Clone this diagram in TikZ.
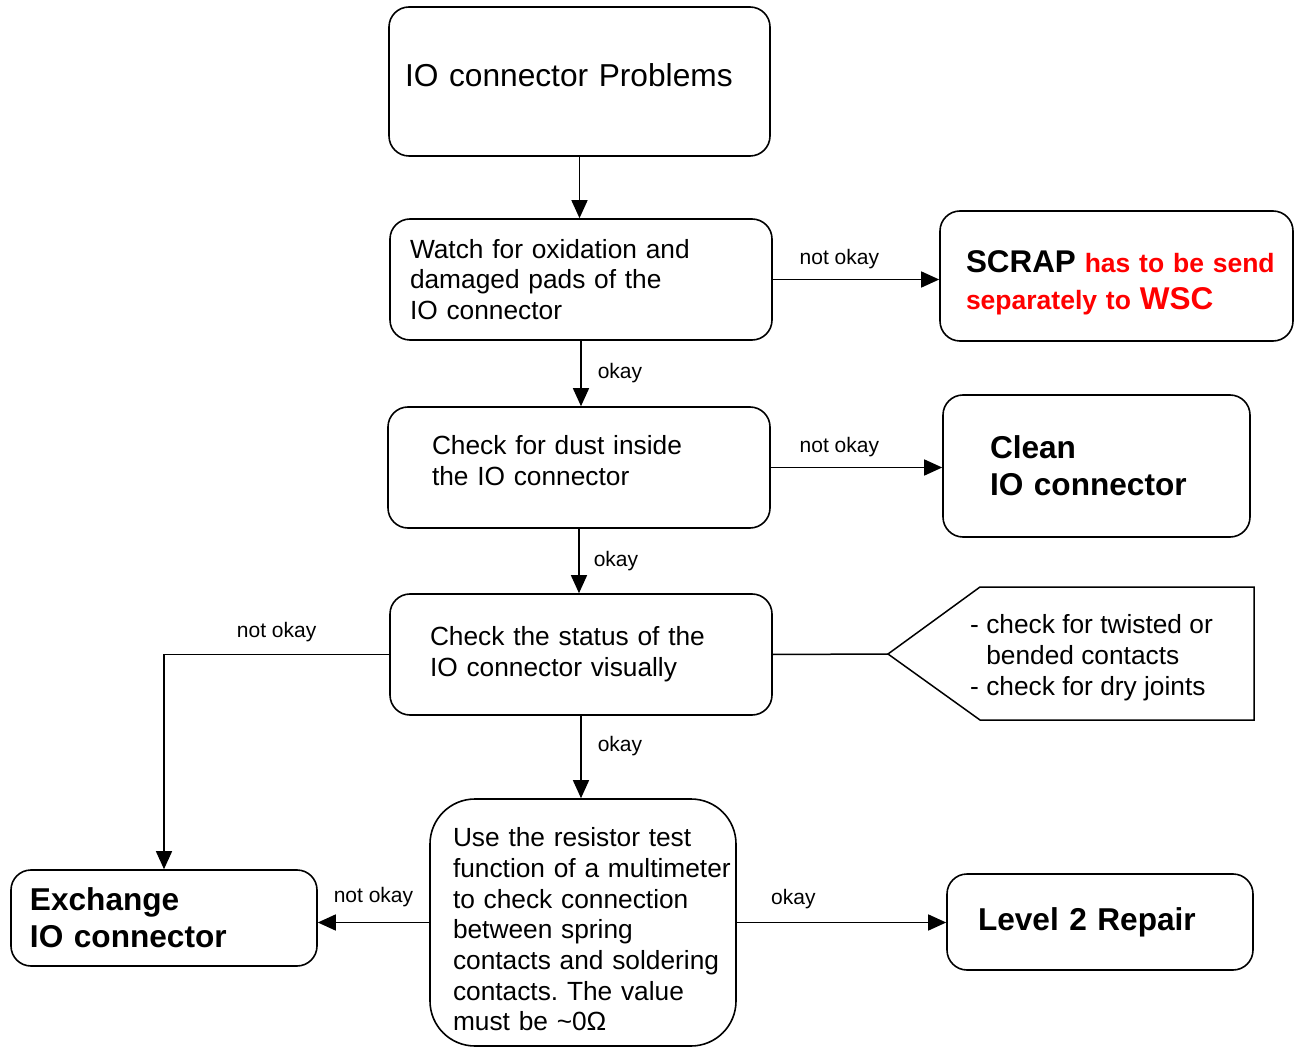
\documentclass[tikz,border=0pt]{standalone}
\usepackage{fontspec}
\setmainfont{Liberation Sans}
\usepackage{xcolor}
\usepackage{tikz}
\usetikzlibrary{arrows.meta, calc}
\hyphenpenalty=10000
\exhyphenpenalty=10000
\frenchspacing
\newcommand{\bodyfont}{\fontsize{26.3}{30.7}\selectfont}
\newcommand{\headfont}{\fontsize{31.6}{37}\selectfont\bfseries}
\newcommand{\lblfont}{\fontsize{21}{25}\selectfont}
\tikzstyle{box} = [rectangle, rounded corners=20pt, draw=black, line width=1.6pt, align=left, font=\bodyfont]
\tikzstyle{arrow} = [line width=1.5pt, -{Triangle[length=18pt, width=16pt]}]
\tikzstyle{line} = [line width=1.5pt]
\tikzstyle{lbl} = [font=\lblfont, inner sep=2pt]

\begin{document}
\begin{tikzpicture}[x=1pt, y=-1pt]
    \useasboundingbox (0,0) rectangle (1294,1048);
    \node (problem) [box, text width=349pt, inner xsep=16pt, minimum height=149pt, text depth=13pt, font=\fontsize{31.7}{38}\selectfont] at (579.5,81.5) {IO connector Problems};
    \node (watch) [box, text width=342pt, inner xsep=20pt, minimum height=121pt] at (581,279.5) {Watch for oxidation and\\damaged pads of the\\IO connector};
    \node (scrap) [box, text width=301pt, inner xsep=26pt, minimum height=130pt, text height=35pt, font=\fontsize{26.5}{37}\selectfont\bfseries] at (1116.5,276) {\mbox{{\fontsize{31.4}{37}\selectfont SCRAP} \color{red}has to be send}\\{\color{red}separately to {\fontsize{31.5}{37}\selectfont WSC}}};
    \node (dust) [box, text width=294pt, inner xsep=44pt, minimum height=121pt, text depth=45pt] at (579,467.5) {Check for dust inside\\the IO connector};
    \node (clean) [box, text width=213pt, inner xsep=47pt, minimum height=142pt, font=\headfont] at (1096.5,466) {Clean\\IO connector};
    \node (status) [box, text width=302pt, inner xsep=40pt, minimum height=121pt] at (581,654.5) {Check the status of the\\IO connector visually};
    \node (test) [box, rounded corners=45pt, text width=260pt, inner xsep=23pt, minimum height=247pt, text height=33pt] at (583,922.5) {Use the resistor test\\\mbox{function of a multimeter}\\to check connection\\between spring\\\mbox{contacts and soldering}\\contacts. The value\\must be \textasciitilde 0Ω};
    \node (exchange) [box, text width=268pt, inner xsep=19pt, minimum height=96pt, font=\headfont] at (164,918) {Exchange\\IO connector};
    \node (level) [box, text width=244pt, inner xsep=31pt, minimum height=96pt, font=\headfont] at (1100,922) {Level 2 Repair};

    % hint flag
    \coordinate (hinttip) at (888,654);
    \draw [line] (hinttip) -- (980,587) -- (1254,587) -- (1254,720) -- (980,720) -- cycle;
    \node (hint) [anchor=west, align=left, inner sep=0pt, font=\bodyfont] at (970,657.5) {- check for twisted or\\\hphantom{-}~bended contacts\\- check for dry joints};

    \draw [arrow] (problem.south) -- (problem.south |- watch.north);
    \draw [arrow] (watch.east) -- node[lbl, above=8pt, pos=0.4] {not okay} (watch.east -| scrap.west);
    \draw [arrow] (watch.south) -- node[lbl, right=14pt] {okay} (watch.south |- dust.north);
    \draw [arrow] (dust.east) -- node[lbl, above=8pt, pos=0.4] {not okay} (dust.east -| clean.west);
    \draw [arrow] (dust.south) -- node[lbl, right=12pt] {okay} (dust.south |- status.north);
    \draw [line] (status.east) -- (hinttip);
    \draw [arrow] (status.west) -- node[lbl, above=10pt] {not okay} (exchange.north |- status.west) -- (exchange.north);
    \draw [arrow] (status.south) -- node[lbl, right=14pt, pos=0.37] {okay} (status.south |- test.north);
    \draw [arrow] (test.west) -- node[lbl, above=13pt] {not okay} (test.west -| exchange.east);
    \draw [arrow] (test.east) -- node[lbl, above=11pt, pos=0.27] {okay} (test.east -| level.west);
\end{tikzpicture}
\end{document}
